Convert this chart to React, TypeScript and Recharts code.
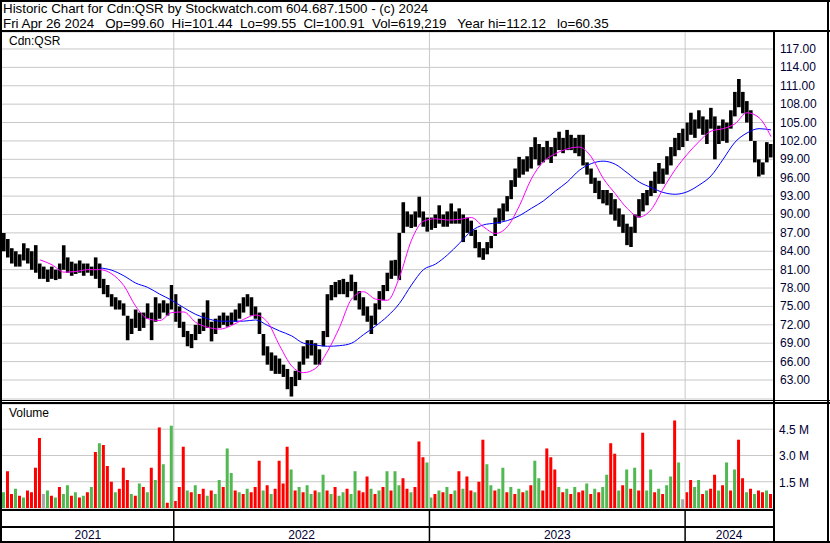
import React from "react";
import { ComposedChart, Bar, Line, XAxis, YAxis, CartesianGrid, ReferenceLine, Cell } from "recharts";

// price bars, roughly 4 trading days per entry (high / low)
const hi = [
  87, 86, 84.5, 84, 83.5, 85.3, 84.5, 84, 85, 82,
  81.5, 81, 81.5, 81, 82, 85, 83, 82.3, 82, 82.5,
  82, 82, 81.5, 83, 82, 79.5, 78.5, 77, 76.5, 76,
  75.5, 73.5, 73, 74.5, 74, 74, 75.5, 74, 76.5, 75.5,
  76, 75.5, 78.5, 77, 75, 72.5, 71, 70.5, 72, 73,
  74, 76, 72.5, 73, 73.5, 74, 73.5, 74, 74.5, 75.5,
  76.5, 77, 76.5, 75, 74, 70.5, 68.5, 67.5, 67, 66.5,
  65.5, 64.8, 63.5, 64.5, 66, 68.5, 69.5, 69.5, 69, 68,
  71, 77, 78.5, 79, 79.3, 79.5, 79, 80.2, 79, 77.5,
  76.5, 75, 73.5, 75.5, 77.5, 78.5, 80.5, 82.5, 82.6, 87,
  92, 90.5, 90, 90.5, 92.9, 90.5, 89.5, 89.5, 90, 91.5,
  90, 90.5, 91.8, 90.5, 91, 90, 89.5, 89, 87.5, 85.5,
  84.5, 85.5, 86.5, 89.5, 91, 91.8, 93, 95.6, 97.5, 99.4,
  99, 99.5, 101, 102.6, 101.5, 101, 102, 101, 102.5, 103.5,
  102.5, 103.8, 103, 102.5, 103, 103, 98.5, 97.5, 96, 95.5,
  94, 94, 93.5, 92.5, 91, 90, 88.5, 88, 90, 92.5,
  93.5, 94, 95.5, 97, 98.4, 97.5, 99.5, 101, 102.5, 103.3,
  104, 105, 106.6, 105.5, 107, 106, 105.5, 107.4, 106, 104.5,
  105.5, 105, 107, 110, 112.1, 110, 108.5, 107, 102, 99,
  98.5, 101.8, 101.5,
];

const lo = [
  84, 83, 82, 81.5, 81.5, 82.5, 82, 81, 80.5, 79.5,
  79.5, 79, 79.5, 79.3, 79.5, 81, 80.5, 80, 80.3, 80.5,
  80, 80.5, 80, 79.5, 78, 77, 76.5, 75, 74.5, 74.5,
  73.5, 69.5, 70.5, 71.5, 71, 71.5, 73, 69.5, 72.5, 73,
  74, 73.5, 74.5, 72.5, 71.5, 70, 68.5, 68.2, 69.5, 70.5,
  71, 71.5, 69.3, 70.5, 71.5, 72, 71.7, 72, 72.5, 73,
  74, 75, 73.5, 73, 70.5, 67, 65.5, 64.5, 64, 64,
  63.5, 61.5, 60.3, 62, 63, 65.5, 66.5, 67, 65.5, 65.5,
  68.5, 70, 76, 76.5, 77, 77, 76.5, 77.5, 76, 74.5,
  73.5, 72.5, 70.5, 72, 74.5, 76, 77.5, 79.5, 80, 79.3,
  87, 88, 87.8, 88, 89.5, 88, 87.2, 87.5, 87.8, 88.5,
  88, 88, 88.5, 88.5, 88.5, 85.5, 87, 86.5, 84.5, 83,
  82.6, 83.5, 84.5, 86.5, 88.5, 89, 90.5, 92.5, 94.5, 96,
  96.5, 97, 97.5, 99, 98, 98.5, 99, 98.4, 99.5, 100.5,
  100, 100.5, 100.5, 100, 99.5, 98, 96.5, 95, 93.5, 92.5,
  91.8, 91.5, 90, 89, 88, 87, 85, 84.7, 87, 89.5,
  90.5, 91.5, 93, 93.5, 95, 95, 96.5, 98, 99.5, 100.5,
  101, 102, 103, 102.5, 104, 103, 101.5, 104, 99, 101.5,
  102, 101.7, 104, 106, 107.5, 106.5, 105, 102, 98.5, 96.2,
  96.5, 98.5, 99.3,
];

// volume in millions, same entries
const vol = [
  0.9, 2.1, 0.8, 1.1, 0.7, 0.6, 1.0, 0.9, 2.3, 4.0,
  0.8, 1.0, 0.7, 0.6, 1.2, 0.8, 1.3, 0.7, 0.9, 0.6,
  0.7, 0.9, 1.2, 3.2, 3.7, 3.6, 2.4, 1.5, 0.9, 1.1,
  2.3, 1.6, 0.8, 0.7, 1.4, 1.2, 0.9, 2.3, 1.6, 4.6,
  2.5, 0.3, 4.7, 0.4, 1.2, 3.5, 1.0, 0.9, 1.3, 0.8,
  1.1, 0.7, 1.0, 0.8, 1.6, 1.2, 3.4, 2.0, 1.0, 0.9,
  0.8, 1.1, 0.9, 1.2, 2.7, 1.0, 1.3, 0.8, 1.1, 2.7,
  1.4, 3.5, 2.2, 1.0, 1.2, 0.9, 1.3, 0.8, 1.0, 0.9,
  1.9, 1.0, 0.8, 1.2, 0.7, 0.9, 1.1, 0.8, 2.1, 1.0,
  0.9, 1.8, 1.1, 0.8, 1.0, 1.2, 2.1, 1.0, 2.1, 1.3,
  1.7, 1.1, 0.9, 1.2, 3.8, 2.9, 2.6, 0.6, 0.8, 1.0,
  0.9, 1.2, 0.8, 1.0, 2.1, 1.1, 1.8, 1.0, 0.9, 1.5,
  3.9, 2.5, 1.3, 1.0, 1.1, 2.3, 0.9, 1.2, 0.8, 1.1,
  0.9, 1.0, 1.3, 2.7, 1.7, 1.0, 3.4, 2.9, 2.2, 1.2,
  0.9, 1.1, 0.8, 1.2, 0.9, 1.0, 1.4, 0.8, 1.1, 0.9,
  1.2, 1.9, 3.7, 3.1, 1.0, 1.3, 2.2, 1.1, 2.3, 1.0,
  4.3, 1.0, 2.2, 0.9, 1.1, 0.8, 1.3, 1.8, 5.0, 2.6,
  0.5, 0.9, 1.6, 1.2, 1.6, 0.8, 1.0, 1.1, 1.9, 1.0,
  1.3, 2.6, 1.0, 2.2, 3.9, 1.7, 0.9, 1.1, 0.8, 1.0,
  0.9, 1.0, 0.8,
];

// u = up day (green), d = down day (red), n = unchanged (grey)
const volDir = (
  "u d d u d u d d d d " +
  "n u d u d u u d u d " +
  "u d u d u d d d u d " +
  "d d u d u d u d u d " +
  "u d u d d d u d u d " +
  "d u d u u d u u d u " +
  "d u d d d u d u d d " +
  "d d u d u d u u d u " +
  "u d u d u u d u u d " +
  "d d u d u d u d u u " +
  "d d u d d d u u d u " +
  "d u d u d u d d u d " +
  "d u u d u u d u d u " +
  "d u d u u d d d d u " +
  "d u d u d d u d u d " +
  "u u d d u d u d u d " +
  "d u u d u d u u d u " +
  "n d d u u d u d d u " +
  "d u d u d d u d u d " +
  "d u d"
).split(" ");

// moving averages, one value every 3rd entry
const maFast = [
  null, null, null, 82.6, 81.8, 80.6, 80.7, 81.0, 81.0, 80.3,
  78.4, 75.0, 73.0, 72.7, 74.0, 74.1, 72.4, 71.6, 71.3, 71.9,
  72.9, 73.6, 72.4, 68.6, 65.3, 64.2, 64.9, 67.7, 71.6, 76.2,
  77.4, 76.2, 76.0, 79.8, 85.8, 88.9, 89.3, 89.1, 89.2, 89.5,
  88.0, 86.9, 88.0, 91.4, 95.8, 98.6, 99.9, 100.7, 101.0, 99.4,
  95.9, 93.4, 91.0, 89.6, 90.8, 94.2, 97.3, 99.8, 101.9, 103.6,
  104.0, 104.8, 106.6, 105.8, 102.7,
];

const maSlow = [
  null, null, null, null, null, null, null, null, 81.3, 80.9,
  80.0, 78.8, 78.1, 77.0, 76.0, 74.8, 73.7, 73.0, 72.6, 72.6,
  72.6, 72.8, 71.9, 71.0, 70.2, 69.0, 68.7, 68.5, 68.6, 69.0,
  70.4, 71.8, 73.4, 75.5, 78.5, 81.0, 81.9, 83.4, 85.3, 87.3,
  88.3, 88.6, 89.0, 89.8, 91.0, 92.2, 93.8, 95.3, 97.2, 98.3,
  98.7, 98.2, 96.8, 95.3, 94.4, 93.6, 93.3, 93.7, 94.8, 96.3,
  99.0, 101.8, 103.3, 104.0, 103.8,
];

const yearNames = ["2021", "2022", "2023", "2024"];
const yearStart = [0, 43, 107, 171];
const priceTicks = [63, 66, 69, 72, 75, 78, 81, 84, 87, 90, 93, 96, 99, 102, 105, 108, 111, 114, 117];
const volTicks = [1.5, 3.0, 4.5];

const FONT = "'Liberation Sans', Arial, sans-serif";
const GRID = "#c8c8c8";
const N = hi.length;

const data = hi.map((h, i) => ({
  x: i + 0.5,
  range: [lo[i], h],
  vol: vol[i],
  dir: volDir[i],
  maF: i % 3 === 0 ? maFast[i / 3] : null,
  maS: i % 3 === 0 ? maSlow[i / 3] : null,
}));

const yearEnds = [...yearStart.slice(1), N];
const yearMid = yearStart.map((s, k) => (s + yearEnds[k]) / 2);
const bounds = yearStart.slice(1);

const dirColor: Record<string, string> = { u: "#52b852", d: "#ff0000", n: "#a8a8a8" };

const PriceTick = (props: any) => (
  <text x={780} y={props.y + 4} fontSize={12} fill="#000033" fontFamily={FONT}>
    {props.payload.value.toFixed(2)}
  </text>
);

const VolTick = (props: any) => (
  <text x={779} y={props.y + 5} fontSize={12} fill="#000033" fontFamily={FONT}>
    {props.payload.value.toFixed(1) + " M"}
  </text>
);

const YearTick = (props: any) => {
  const v = props.payload.value;
  if (bounds.includes(v)) {
    return <line x1={props.x} x2={props.x} y1={510} y2={541} stroke="#000" strokeWidth={1.5} />;
  }
  const k = yearMid.indexOf(v);
  return (
    <text x={props.x} y={539} textAnchor="middle" fontSize={12} fill="#000033" fontFamily={FONT}>
      {yearNames[k]}
    </text>
  );
};

const box = (left: number, top: number, width: number, height: number): React.CSSProperties => ({
  position: "absolute", left, top, width, height, background: "#000",
});

export default function App() {
  return (
    <div style={{ position: "absolute", left: 0, top: 0, width: 830, height: 543, background: "#fff", overflow: "hidden", fontFamily: FONT }}>
      <div style={{ position: "absolute", left: 0, top: 0 }}>
        <ComposedChart width={830} height={400} data={data} margin={{ top: 32, right: 2, bottom: 1, left: 2 }}>
          <CartesianGrid horizontal vertical={false} stroke={GRID} />
          <XAxis type="number" dataKey="x" domain={[0, N]} hide allowDataOverflow />
          <YAxis orientation="right" domain={[59.9, 119.77]} ticks={priceTicks} width={55}
            axisLine={false} tickLine={false} tick={<PriceTick />} interval={0} allowDataOverflow />
          {bounds.map((b) => <ReferenceLine key={b} x={b} stroke={GRID} />)}
          <Bar dataKey="range" fill="#000" barSize={4} isAnimationActive={false} />
          <Line dataKey="maS" type="monotone" stroke="#0000ff" strokeWidth={1} dot={false} connectNulls isAnimationActive={false} />
          <Line dataKey="maF" type="monotone" stroke="#ff00ff" strokeWidth={1} dot={false} connectNulls isAnimationActive={false} />
        </ComposedChart>
      </div>

      <div style={{ position: "absolute", left: 0, top: 0 }}>
        <ComposedChart width={830} height={543} data={data} margin={{ top: 404, right: 2, bottom: 0, left: 2 }}>
          <CartesianGrid horizontal vertical={false} stroke={GRID} />
          <XAxis type="number" dataKey="x" domain={[0, N]} height={35} ticks={[...bounds, ...yearMid]}
            interval={0} axisLine={false} tickLine={false} tick={<YearTick />} allowDataOverflow />
          <YAxis orientation="right" domain={[0, 5.94]} ticks={volTicks} width={55}
            axisLine={false} tickLine={false} tick={<VolTick />} interval={0} allowDataOverflow />
          {bounds.map((b) => <ReferenceLine key={b} x={b} stroke={GRID} />)}
          <Bar dataKey="vol" barSize={3} isAnimationActive={false}>
            {data.map((d, i) => <Cell key={i} fill={dirColor[d.dir]} />)}
          </Bar>
        </ComposedChart>
      </div>

      <div style={{ position: "absolute", left: 3, top: 1, fontSize: 13.33, lineHeight: "15px", whiteSpace: "pre", color: "#000" }}>
        {"Historic Chart for Cdn:QSR by Stockwatch.com 604.687.1500 - (c) 2024"}
        <br />
        {"Fri Apr 26 2024   Op=99.60  Hi=101.44  Lo=99.55  Cl=100.91  Vol=619,219   Year hi=112.12   lo=60.35"}
      </div>
      <div style={{ position: "absolute", left: 9, top: 34, fontSize: 12, lineHeight: "14px", color: "#000" }}>Cdn:QSR</div>
      <div style={{ position: "absolute", left: 9, top: 406, fontSize: 12, lineHeight: "14px", color: "#000" }}>Volume</div>

      <div style={box(0, 0, 830, 2)} />
      <div style={box(0, 0, 2, 543)} />
      <div style={box(827, 0, 2, 543)} />
      <div style={box(0, 541, 830, 2)} />
      <div style={box(0, 30, 830, 2)} />
      <div style={box(773, 30, 2, 513)} />
      <div style={box(0, 400, 830, 1)} />
      <div style={box(0, 402, 830, 2)} />
      <div style={box(0, 509, 775, 2)} />
      <div style={box(0, 526, 775, 2)} />
    </div>
  );
}
